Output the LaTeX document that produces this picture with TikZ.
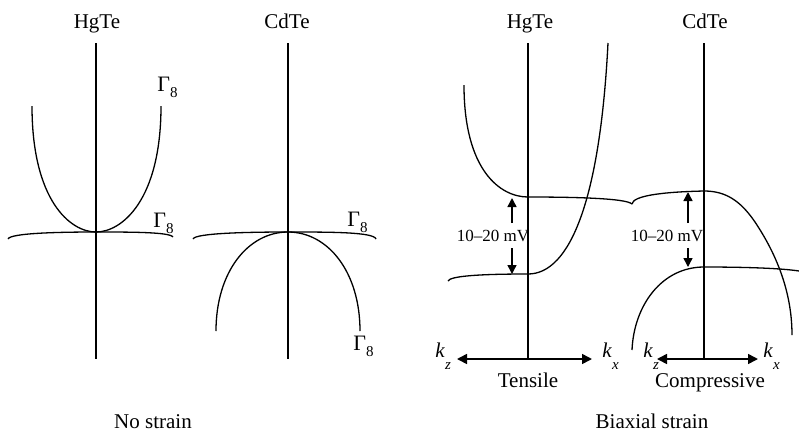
\documentclass[tikz,border=0pt]{standalone}
\usepackage{fontspec}
\setmainfont{Liberation Serif}
\usetikzlibrary{arrows.meta}
\newcommand{\gam}{Γ\raisebox{-3pt}{\fontsize{7.5}{8}\selectfont 8}}
\newcommand{\kk}[1]{\textit{k}\raisebox{-6pt}{\fontsize{7.5}{8}\selectfont\textit{#1}}}
\begin{document}
\begin{tikzpicture}[x=0.5pt,y=-0.5pt,
  band/.style={line width=0.65pt},
  axisline/.style={line width=0.7pt},
  karrow/.style={line width=0.8pt,-{Triangle[length=5pt,width=5pt]}},
  marrow/.style={line width=0.7pt,-{Triangle[length=4.5pt,width=4.5pt]}},
  lbl/.style={inner sep=0pt,font=\fontsize{10.5}{12}\selectfont},
  gl/.style={lbl,anchor=base west,font=\fontsize{11}{12}\selectfont},
  mv/.style={inner sep=0pt,font=\fontsize{8.5}{10}\selectfont}]
\useasboundingbox (0,0) rectangle (799,430);
% titles
\node[lbl,anchor=base] (hg1) at (97,28) {HgTe};
\node[lbl,anchor=base] (cd1) at (287,28) {CdTe};
\node[lbl,anchor=base] (hg2) at (530,28) {HgTe};
\node[lbl,anchor=base] (cd2) at (705,28) {CdTe};
\node[lbl,anchor=base] (ns) at (153,428) {No strain};
\node[lbl,anchor=base] (bs) at (652,428) {Biaxial strain};
\node[lbl,anchor=base] (ten) at (528,387) {Tensile};
\node[lbl,anchor=base] (comp) at (710,387) {Compressive};
% Gamma labels
\node[gl] (g1) at (157,91) {\gam};
\node[gl] (g2) at (153,227) {\gam};
\node[gl] (g3) at (347,226) {\gam};
\node[gl] (g4) at (353,350) {\gam};
% k labels
\node[lbl,anchor=base west] (kz1) at (435,357) {\kk{z}};
\node[lbl,anchor=base west] (kx1) at (602,357) {\kk{x}};
\node[lbl,anchor=base west] (kz2) at (643,357) {\kk{z}};
\node[lbl,anchor=base west] (kx2) at (763,357) {\kk{x}};
% axis coordinates
\coordinate (a1t) at (96,43);  \coordinate (a1b) at (96,359);
\coordinate (a2t) at (288,43); \coordinate (a2b) at (288,359);
\coordinate (a3t) at (528,43); \coordinate (a3b) at (528,359);
\coordinate (a4t) at (704,43); \coordinate (a4b) at (704,359);
\coordinate (l3) at (457,359); \coordinate (r3) at (592,359);
\coordinate (l4) at (657,359); \coordinate (r4) at (758,359);
% no strain HgTe
\draw[band] (32,106) .. controls (32,200) and (70,232) .. (96,232)
  .. controls (122,232) and (161,200) .. (161,106);
\draw[band] (8,239) .. controls (10,233) and (60,232) .. (96,232)
  .. controls (130,232) and (170,232) .. (173,237);
% no strain CdTe
\draw[band] (193,239) .. controls (195,233) and (250,232) .. (288,232)
  .. controls (330,232) and (374,232) .. (376,239);
\draw[band] (216,331) .. controls (216,272) and (248,232) .. (288,232)
  .. controls (328,232) and (360,272) .. (360,331);
% tensile HgTe
\draw[band] (464,85) .. controls (464,170) and (500,197) .. (528,197)
  .. controls (570,197) and (626,198) .. (632,204);
\draw[band] (448,281) .. controls (450,276) and (480,274) .. (528,274)
  .. controls (570,274) and (600,200) .. (608,43);
% compressive CdTe
\draw[band] (632,204) .. controls (633,196) and (660,192) .. (704,191)
  .. controls (725,191) and (740,200) .. (755,222)
  .. controls (775,252) and (792,290) .. (792,335);
\draw[band] (632,350) .. controls (634,305) and (662,267) .. (704,267)
  .. controls (740,267) and (780,268) .. (799,271);
% energy gap arrows
\coordinate (t1) at (512,198); \coordinate (b1) at (512,274);
\coordinate (t2) at (688,192); \coordinate (b2) at (688,267);
\node[mv] (m1) at (493,236) {10–20 mV};
\node[mv] (m2) at (667,236) {10–20 mV};
\draw[marrow] (t1 |- 0,223) -- (t1);
\draw[marrow] (b1 |- 0,248) -- (b1);
\draw[marrow] (t2 |- 0,223) -- (t2);
\draw[marrow] (b2 |- 0,248) -- (b2);
% axes
\draw[axisline] (a1t) -- (a1b);
\draw[axisline] (a2t) -- (a2b);
\draw[axisline] (a3t) -- (a3b);
\draw[axisline] (a4t) -- (a4b);
\draw[karrow] (a3b) -- (l3);
\draw[karrow] (a3b) -- (r3);
\draw[karrow] (a4b) -- (l4);
\draw[karrow] (a4b) -- (r4);
\end{tikzpicture}
\end{document}
